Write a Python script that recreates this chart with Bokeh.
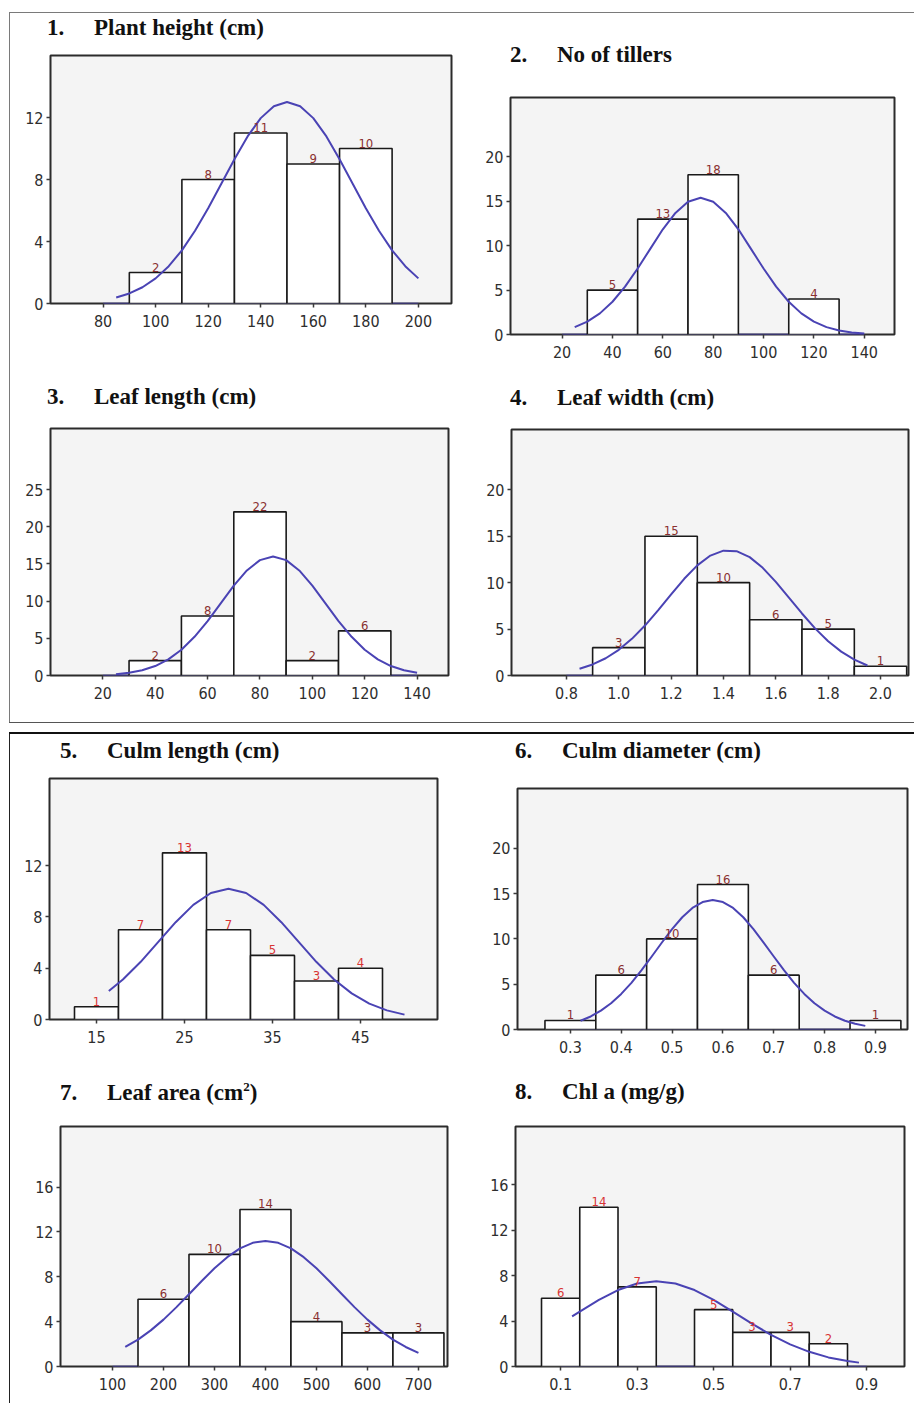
from bokeh.plotting import figure
from bokeh.layouts import column, row
from bokeh.models import Div, Range1d, FixedTicker, PrintfTickFormatter
from bokeh.embed import file_html
from bokeh.resources import INLINE
from bokeh.core.properties import value

# ---------------- data ----------------
# 1. Plant height (cm)
ph_lo = [90, 110, 130, 150, 170]
ph_hi = [110, 130, 150, 170, 190]
ph_counts = [2, 8, 11, 9, 10]
ph_curve_x = [85, 90, 95, 100, 105, 110, 115, 120, 125, 130, 135, 140, 145, 150,
              155, 160, 165, 170, 175, 180, 185, 190, 195, 200]
ph_curve_y = [0.39, 0.65, 1.05, 1.62, 2.41, 3.43, 4.69, 6.14, 7.73, 9.31, 10.78, 11.96, 12.73, 13.0,
              12.73, 11.96, 10.78, 9.31, 7.73, 6.14, 4.69, 3.43, 2.41, 1.62]
ph_xticks = [80, 100, 120, 140, 160, 180, 200]
ph_yticks = [0, 4, 8, 12]

# 2. No of tillers
nt_lo = [30, 50, 70, 110]
nt_hi = [50, 70, 90, 130]
nt_counts = [5, 13, 18, 4]
nt_curve_x = [25, 30, 35, 40, 45, 50, 55, 60, 65, 70, 75, 80, 85, 90, 95, 100,
              105, 110, 115, 120, 125, 130, 135, 140]
nt_curve_y = [0.83, 1.45, 2.38, 3.69, 5.39, 7.43, 9.65, 11.85, 13.70, 14.96, 15.4, 14.96, 13.70, 11.85,
              9.65, 7.43, 5.39, 3.69, 2.38, 1.45, 0.83, 0.45, 0.23, 0.11]
nt_xticks = [20, 40, 60, 80, 100, 120, 140]
nt_yticks = [0, 5, 10, 15, 20]

# 3. Leaf length (cm)
ll_lo = [30, 50, 70, 90, 110]
ll_hi = [50, 70, 90, 110, 130]
ll_counts = [2, 8, 22, 2, 6]
ll_curve_x = [25, 30, 35, 40, 45, 50, 55, 60, 65, 70, 75, 80, 85, 90, 95, 100,
              105, 110, 115, 120, 125, 130, 135, 140]
ll_curve_y = [0.18, 0.36, 0.70, 1.27, 2.17, 3.46, 5.20, 7.32, 9.70, 12.08, 14.12, 15.51, 16.0, 15.51,
              14.12, 12.08, 9.70, 7.32, 5.20, 3.46, 2.17, 1.27, 0.70, 0.36]
ll_xticks = [20, 40, 60, 80, 100, 120, 140]
ll_yticks = [0, 5, 10, 15, 20, 25]

# 4. Leaf width (cm)
lw_lo = [0.9, 1.1, 1.3, 1.5, 1.7, 1.9]
lw_hi = [1.1, 1.3, 1.5, 1.7, 1.9, 2.1]
lw_counts = [3, 15, 10, 6, 5, 1]
lw_curve_x = [0.85, 0.90, 0.95, 1.00, 1.05, 1.10, 1.15, 1.20, 1.25, 1.30, 1.35, 1.40,
              1.45, 1.50, 1.55, 1.60, 1.65, 1.70, 1.75, 1.80, 1.85, 1.90, 1.95]
lw_curve_y = [0.73, 1.19, 1.86, 2.77, 3.95, 5.38, 7.02, 8.75, 10.42, 11.86, 12.92, 13.45,
              13.39, 12.75, 11.60, 10.09, 8.40, 6.68, 5.08, 3.69, 2.57, 1.71, 1.08]
lw_xticks = [0.8, 1.0, 1.2, 1.4, 1.6, 1.8, 2.0]
lw_yticks = [0, 5, 10, 15, 20]

# 5. Culm length (cm)
cl_lo = [12.5, 17.5, 22.5, 27.5, 32.5, 37.5, 42.5]
cl_hi = [17.5, 22.5, 27.5, 32.5, 37.5, 42.5, 47.5]
cl_counts = [1, 7, 13, 7, 5, 3, 4]
cl_curve_x = [16.4, 18, 20, 22, 24, 26, 28, 30, 32, 34, 36, 38, 40, 42, 44, 46, 48, 50]
cl_curve_y = [2.23, 3.12, 4.48, 6.03, 7.59, 8.94, 9.87, 10.2, 9.87, 8.94, 7.59, 6.03,
              4.48, 3.12, 2.04, 1.24, 0.71, 0.38]
cl_xticks = [15, 25, 35, 45]
cl_yticks = [0, 4, 8, 12]

# 6. Culm diameter (cm)
cd_lo = [0.25, 0.35, 0.45, 0.55, 0.65, 0.85]
cd_hi = [0.35, 0.45, 0.55, 0.65, 0.75, 0.95]
cd_counts = [1, 6, 10, 16, 6, 1]
cd_curve_x = [0.32, 0.34, 0.36, 0.38, 0.40, 0.42, 0.44, 0.46, 0.48, 0.50, 0.52, 0.54, 0.56, 0.58,
              0.60, 0.62, 0.64, 0.66, 0.68, 0.70, 0.72, 0.74, 0.76, 0.78, 0.80, 0.82, 0.84, 0.86, 0.88]
cd_curve_y = [0.97, 1.44, 2.08, 2.90, 3.93, 5.15, 6.55, 8.06, 9.60, 11.08, 12.39, 13.42, 14.07, 14.3,
              14.07, 13.42, 12.39, 11.08, 9.60, 8.06, 6.55, 5.15, 3.93, 2.90, 2.08, 1.44, 0.97, 0.63, 0.40]
cd_xticks = [0.3, 0.4, 0.5, 0.6, 0.7, 0.8, 0.9]
cd_yticks = [0, 5, 10, 15, 20]

# 7. Leaf area (cm2)
la_lo = [150, 250, 350, 450, 550, 650]
la_hi = [250, 350, 450, 550, 650, 750]
la_counts = [6, 10, 14, 4, 3, 3]
la_curve_x = [125, 150, 175, 200, 225, 250, 275, 300, 325, 350, 375, 400,
              425, 450, 475, 500, 525, 550, 575, 600, 625, 650, 675, 700]
la_curve_y = [1.74, 2.40, 3.22, 4.18, 5.27, 6.44, 7.62, 8.76, 9.75, 10.53, 11.03, 11.2,
              11.03, 10.53, 9.75, 8.76, 7.62, 6.44, 5.27, 4.18, 3.22, 2.40, 1.74, 1.22]
la_xticks = [100, 200, 300, 400, 500, 600, 700]
la_yticks = [0, 4, 8, 12, 16]

# 8. Chl a (mg/g)
ca_lo = [0.05, 0.15, 0.25, 0.45, 0.55, 0.65, 0.75]
ca_hi = [0.15, 0.25, 0.35, 0.55, 0.65, 0.75, 0.85]
ca_counts = [6, 14, 7, 5, 3, 3, 2]
ca_curve_x = [0.13, 0.15, 0.20, 0.25, 0.30, 0.35, 0.40, 0.45, 0.50, 0.55, 0.60, 0.65,
              0.70, 0.75, 0.80, 0.85, 0.88]
ca_curve_y = [4.40, 4.83, 5.85, 6.72, 7.30, 7.5, 7.30, 6.72, 5.85, 4.83, 3.77, 2.78,
              1.94, 1.29, 0.80, 0.48, 0.34]
ca_xticks = [0.1, 0.3, 0.5, 0.7, 0.9]
ca_yticks = [0, 4, 8, 12, 16]

title_numbers = ["1.", "2.", "3.", "4.", "5.", "6.", "7.", "8."]
SUP2 = '<span style="font-size:13px; line-height:0; position:relative; top:-9px;">2</span>'
titles = ["Plant height (cm)", "No of tillers", "Leaf length (cm)", "Leaf width (cm)",
          "Culm length (cm)", "Culm diameter (cm)", "Leaf area (cm" + SUP2 + ")", "Chl a (mg/g)"]

# ---------------- styling / layout ----------------
TICK_FONT = "DejaVu Sans Condensed"
CURVE_COLOR = "#4a43b4"
DARK_LABEL = "#8a3030"
RED_LABEL = "#d83434"

panels = [
    # data, x range, y range, fmt, label colour, (w, h, l, r, t, b), heading left pad, heading top pad
    dict(lo=ph_lo, hi=ph_hi, n=ph_counts, cx=ph_curve_x, cy=ph_curve_y, xt=ph_xticks, yt=ph_yticks,
         xr=(60, 212.6), yr=(0, 16.0), fmt="%d", lc=DARK_LABEL, g=(450, 357, 40, 9, 42, 67), px=37, py=2),
    dict(lo=nt_lo, hi=nt_hi, n=nt_counts, cx=nt_curve_x, cy=nt_curve_y, xt=nt_xticks, yt=nt_yticks,
         xr=(-0.5, 152), yr=(0, 26.7), fmt="%d", lc=DARK_LABEL, g=(454, 357, 50, 20, 84, 36), px=50, py=29),
    dict(lo=ll_lo, hi=ll_hi, n=ll_counts, cx=ll_curve_x, cy=ll_curve_y, xt=ll_xticks, yt=ll_yticks,
         xr=(0, 152), yr=(0, 33.2), fmt="%d", lc=DARK_LABEL, g=(450, 352, 40, 12, 58, 47), px=37, py=14),
    dict(lo=lw_lo, hi=lw_hi, n=lw_counts, cx=lw_curve_x, cy=lw_curve_y, xt=lw_xticks, yt=lw_yticks,
         xr=(0.59, 2.107), yr=(0, 26.5), fmt="%.1f", lc=DARK_LABEL, g=(454, 352, 51, 6, 59, 47), px=50, py=15),
    dict(lo=cl_lo, hi=cl_hi, n=cl_counts, cx=cl_curve_x, cy=cl_curve_y, xt=cl_xticks, yt=cl_yticks,
         xr=(9.66, 53.75), yr=(0, 18.8), fmt="%d", lc=RED_LABEL, g=(450, 331, 39, 23, 44, 46), px=50, py=4),
    dict(lo=cd_lo, hi=cd_hi, n=cd_counts, cx=cd_curve_x, cy=cd_curve_y, xt=cd_xticks, yt=cd_yticks,
         xr=(0.196, 0.963), yr=(0, 26.6), fmt="%.1f", lc=DARK_LABEL, g=(454, 331, 57, 7, 54, 36), px=55, py=4),
    dict(lo=la_lo, hi=la_hi, n=la_counts, cx=la_curve_x, cy=la_curve_y, xt=la_xticks, yt=la_yticks,
         xr=(-2, 757), yr=(0, 21.4), fmt="%d", lc=DARK_LABEL, g=(450, 338, 50, 13, 61, 37), px=50, py=15),
    dict(lo=ca_lo, hi=ca_hi, n=ca_counts, cx=ca_curve_x, cy=ca_curve_y, xt=ca_xticks, yt=ca_yticks,
         xr=(-0.018, 0.999), yr=(0, 21.1), fmt="%.1f", lc=RED_LABEL, g=(454, 338, 55, 10, 61, 37), px=55, py=14),
]

LINE_H = 26


def make_heading(i, s, w, hd):
    html = ('<div style="padding:%dpx 0 0 %dpx; font-family:\'Liberation Serif\',serif; '
            'font-weight:bold; font-size:23px; line-height:%dpx; color:#111111; white-space:nowrap;">'
            '<span style="display:inline-block; width:47px;">%s</span>%s</div>'
            % (s["py"], s["px"], LINE_H, title_numbers[i], titles[i]))
    return Div(text=html, width=w, height=hd, margin=0)


def make_panel(i, s):
    w, h, bl, br, bt, bb = s["g"]
    hd = s["py"] + LINE_H + 2
    p = figure(width=w, height=h - hd, output_backend="svg", toolbar_location=None,
               x_range=Range1d(*s["xr"]), y_range=Range1d(*s["yr"]),
               min_border=0, min_border_left=bl, min_border_right=br,
               min_border_top=bt - hd, min_border_bottom=bb)
    p.frame_align = False

    p.background_fill_color = "#f4f4f4"
    p.border_fill_color = "white"
    p.outline_line_color = "#2b2b2b"
    p.outline_line_width = 2
    p.xgrid.grid_line_color = None
    p.ygrid.grid_line_color = None

    for ax, ticks in ((p.xaxis, s["xt"]), (p.yaxis, s["yt"])):
        ax.ticker = FixedTicker(ticks=ticks)
        ax.axis_line_color = None
        ax.major_tick_line_color = "#3a3a3a"
        ax.major_tick_line_width = 1.5
        ax.major_tick_out = 4
        ax.major_tick_in = 0
        ax.minor_tick_line_color = None
        ax.major_label_text_font = TICK_FONT
        ax.major_label_text_font_size = "16px"
        ax.major_label_text_color = "#2e2e2e"
    p.xaxis.major_label_standoff = 7
    p.yaxis.major_label_standoff = 3
    p.xaxis.formatter = PrintfTickFormatter(format=s["fmt"])
    p.yaxis.formatter = PrintfTickFormatter(format="%d")

    # blue baseline along the axis
    p.line(x=[s["xt"][0], s["xt"][-1]], y=[0, 0], line_color=CURVE_COLOR, line_width=1.5)
    # histogram bars
    p.quad(left=s["lo"], right=s["hi"], bottom=0, top=s["n"], fill_color="white",
           line_color="#1a1a1a", line_width=1.6)
    # normal curve
    p.line(x=s["cx"], y=s["cy"], line_color=CURVE_COLOR, line_width=2, line_join="round")
    # count labels
    centers = [(a + b) / 2 for a, b in zip(s["lo"], s["hi"])]
    p.text(x=centers, y=s["n"], text=[str(v) for v in s["n"]], text_align="center",
           text_baseline="bottom", y_offset=-1, text_font=value(TICK_FONT),
           text_font_size="13px", text_color=s["lc"])

    return column(make_heading(i, s, w, hd), p)


cells = [make_panel(i, s) for i, s in enumerate(panels)]


def bar(width, height, color=None):
    styles = {"background-color": color} if color else {}
    return Div(width=width, height=height, margin=0, styles=styles)


top_block = column(
    bar(905, 1, "#7a7a7a"),
    row(bar(1, 709, "#7a7a7a"), column(row(cells[0], cells[1]), row(cells[2], cells[3]))),
    bar(905, 1, "#555555"),
)
bottom_block = column(
    bar(905, 2, "#111111"),
    row(bar(1, 669, "#222222"), column(row(cells[4], cells[5]), row(cells[6], cells[7]))),
)

layout = column(
    bar(914, 12),
    row(bar(9, 1), column(top_block, bar(905, 9), bottom_block)),
)

open("out.html", "w").write(file_html(layout, INLINE))
